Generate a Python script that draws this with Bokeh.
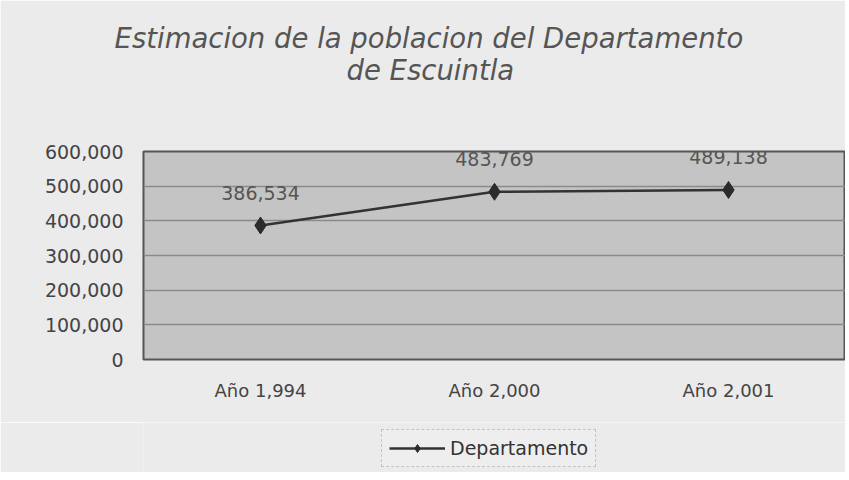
from bokeh.plotting import figure
from bokeh.layouts import column
from bokeh.models import (ColumnDataSource, LabelSet, Legend, LegendItem, Title,
                          NumeralTickFormatter, FixedTicker, Range1d)
from bokeh.core.properties import value
from bokeh.embed import file_html
from bokeh.resources import INLINE

categories = ["Año 1,994", "Año 2,000", "Año 2,001"]
values = [386534, 483769, 489138]
series_name = "Departamento"
title_lines = ["Estimacion de la poblacion del Departamento", "de Escuintla"]
y_ticks = [0, 100000, 200000, 300000, 400000, 500000, 600000]

labels = [f"{v:,}" for v in values]
src = ColumnDataSource(dict(x=categories, y=values, lab=labels))

BG = "#ebebeb"
p = figure(width=845, height=422, x_range=categories, y_range=Range1d(0, 600000),
           output_backend="svg", toolbar_location=None,
           min_border_left=143, min_border_right=0, min_border_top=151,
           min_border_bottom=63)
p.border_fill_color = BG
p.background_fill_color = "#c4c4c4"
p.outline_line_color = "#555555"
p.outline_line_width = 2

p.ygrid.grid_line_color = "#8a8a8a"
p.ygrid.grid_line_width = 1.5
p.xgrid.grid_line_color = None

p.yaxis.ticker = FixedTicker(ticks=y_ticks)
p.yaxis.formatter = NumeralTickFormatter(format="0,0")
for ax in (p.xaxis[0], p.yaxis[0]):
    ax.axis_line_color = None
    ax.major_tick_line_color = None
    ax.minor_tick_line_color = None
    ax.major_label_text_font = "DejaVu Sans"
    ax.major_label_text_color = "#444444"
p.yaxis.major_label_text_font_size = "19px"
p.xaxis.major_label_text_font_size = "18px"
p.yaxis.major_label_standoff = 14
p.xaxis.major_label_standoff = 14

line = p.line("x", "y", source=src, line_color="#333333", line_width=2.5)
pts = p.scatter("x", "y", source=src, marker="diamond", size=17,
                fill_color="#2b2b2b", line_color="#2b2b2b")

p.add_layout(LabelSet(x="x", y="y", text="lab", source=src, text_align="center",
                      text_baseline="middle", y_offset=33,
                      text_font=value("DejaVu Sans"), text_font_size=value("19px"),
                      text_color="#555555"))

p.add_layout(Title(text=" ", text_font_size="23px", standoff=40), "above")
p.add_layout(Title(text=title_lines[1], align="left", offset=203,
                   text_font="DejaVu Sans", text_font_style="italic",
                   text_font_size="27.5px", text_color="#555555", standoff=-4), "above")
p.add_layout(Title(text=title_lines[0], align="left", offset=-29,
                   text_font="DejaVu Sans", text_font_style="italic",
                   text_font_size="27.5px", text_color="#555555", standoff=0), "above")

# legend strip below the chart
p2 = figure(width=845, height=50, x_range=categories, y_range=Range1d(0, 1),
            output_backend="svg", toolbar_location=None,
            min_border_left=143, min_border_right=0, min_border_top=0, min_border_bottom=0)
p2.axis.visible = False
p2.grid.visible = False
p2.outline_line_color = None
p2.border_fill_color = BG
p2.background_fill_color = BG
l2 = p2.line("x", "y", source=src, line_color="#333333", line_width=2.5)
s2 = p2.scatter("x", "y", source=src, marker="diamond", size=17,
                fill_color="#2b2b2b", line_color="#2b2b2b")
legend = Legend(items=[LegendItem(label=series_name, renderers=[l2, s2])],
                location=(238, 5), orientation="horizontal",
                label_text_font="DejaVu Sans", label_text_font_size="19px",
                label_text_color="#333333", border_line_color="#999999",
                border_line_dash="4 2",
                background_fill_color="#eeeeee", glyph_width=56,
                padding=7, spacing=0, margin=0)
p2.add_layout(legend)

layout = column(p, p2, spacing=0)
open("out.html", "w").write(file_html(layout, INLINE))
